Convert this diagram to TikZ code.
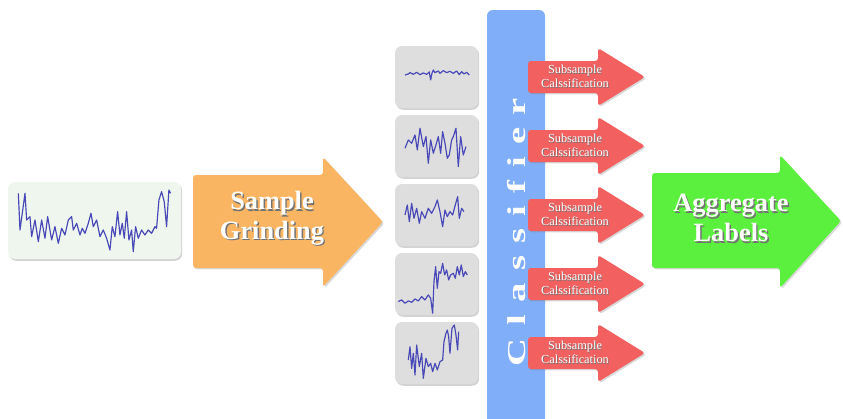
\documentclass[tikz,border=0pt]{standalone}
\usepackage{fontspec}
\setmainfont{Liberation Serif}
\newfontfamily\spacedfont[LetterSpace=32]{Liberation Serif}
\usetikzlibrary{shadows,positioning}
\definecolor{grindorange}{RGB}{250,181,98}
\definecolor{aggrgreen}{RGB}{92,240,62}
\definecolor{subred}{RGB}{242,96,96}
\definecolor{classblue}{RGB}{128,174,248}
\definecolor{cardgray}{RGB}{222,222,222}
\definecolor{mint}{RGB}{239,246,237}
\definecolor{tracecol}{RGB}{72,72,184}
% white lettering with a dark offset copy behind it
\newcommand\embossed[2][1.2pt]{\rlap{\hspace{#1}\raisebox{-#1}{\color{black!55}#2}}#2}

\begin{document}
\begin{tikzpicture}[x=0.03cm,y=-0.03cm,
    card/.style={rounded corners=6pt,drop shadow={shadow xshift=1pt,shadow yshift=-1.5pt,opacity=.35}},
    trace/.style={draw=tracecol,line width=1pt,line join=round},
    blockarrow/.style={rounded corners=2.5pt,drop shadow={shadow xshift=1.2pt,shadow yshift=-1.2pt,opacity=.3}},
    bigtext/.style={text=white,align=center,font=\fontsize{22.5}{25.5}\selectfont\bfseries},
    smalltext/.style={text=white,align=center,font=\fontsize{10.5}{12}\selectfont}]
  \useasboundingbox (0,0) rectangle (843,418);

  % whole recording
  \path[card,fill=mint] (8,182) rectangle (181,259);
  \begin{scope}[shift={(5,180)},x=0.01cm,y=-0.01cm]
    \draw[trace] plot coordinates {(40,40) (45,150) (60,40) (65,120) (75,110) (80,170) (90,120) (100,185) (110,120) (120,175) (128,110) (140,180) (150,140) (160,190) (170,145) (180,165) (190,120) (200,110) (205,150) (215,130) (225,165) (232,145) (240,160) (250,130) (258,100) (265,140) (275,120) (285,170) (295,150) (305,175) (315,210) (322,140) (330,170) (338,95) (345,165) (352,130) (358,175) (365,95) (372,180) (380,150) (385,215) (392,140) (400,175) (410,150) (420,165) (430,150) (440,160) (450,140) (455,145) (462,60) (470,35) (478,65) (485,140) (492,30) (497,40)};
  \end{scope}

  % grinding step
  \path[blockarrow,fill=grindorange] (193,175) -- (323,175) -- (323,157) -- (383,222) -- (323,287) -- (323,268) -- (193,268) -- cycle;
  \node[bigtext] (grind) at (272,219) {\embossed{Sample}\\\embossed{Grinding}};

  % subsample cards
  \foreach \i in {0,...,4}{
    \pgfmathsetmacro\cy{77+69*\i}
    \path[card,fill=cardgray] (395,\cy-31) rectangle (478,\cy+31);
  }
  \begin{scope}[shift={(390,40)},x=0.01cm,y=-0.01cm]
    \draw[trace] plot coordinates {(45,105) (55,102) (60,98) (70,103) (80,97) (90,104) (100,99) (110,103) (118,96) (122,120) (126,100) (130,90) (135,98) (145,93) (150,100) (160,92) (170,98) (180,94) (190,100) (200,93) (208,104) (215,95) (222,102) (230,97) (238,105)};
    \draw[trace] plot coordinates {(45,325) (55,300) (65,310) (75,285) (82,330) (90,265) (100,320) (108,290) (115,370) (122,300) (130,340) (138,315) (145,290) (152,340) (158,275) (165,310) (172,355) (178,345) (185,300) (190,290) (198,265) (205,380) (212,290) (220,345) (228,320)};
  \end{scope}
  \begin{scope}[shift={(390,175)},x=0.01cm,y=-0.01cm]
    \draw[trace] plot coordinates {(45,120) (52,90) (58,140) (65,85) (72,130) (80,100) (88,145) (95,110) (105,130) (115,100) (125,115) (135,95) (142,75) (150,110) (158,155) (165,105) (172,125) (180,110) (188,120) (196,90) (203,65) (208,130) (215,100) (222,110)};
    \draw[trace] plot coordinates {(25,380) (35,375) (45,385) (55,378) (65,382) (75,372) (85,378) (95,365) (105,375) (115,360) (122,370) (128,415) (132,320) (137,275) (142,340) (147,290) (152,295) (158,265) (164,300) (170,285) (176,315) (182,300) (190,295) (196,310) (202,275) (208,300) (214,270) (220,305) (226,290) (232,300)};
  \end{scope}
  \begin{scope}[shift={(390,310)},x=0.01cm,y=-0.01cm]
    \draw[trace] plot coordinates {(55,150) (60,110) (65,175) (70,130) (75,195) (80,105) (88,170) (95,130) (100,205) (108,145) (115,170) (122,160) (128,185) (135,160) (142,180) (150,155) (158,150) (162,95) (168,70) (172,60) (176,80) (180,130) (186,55) (193,45) (198,75) (203,120) (206,65)};
  \end{scope}

  % classifier bar
  \path[fill=classblue,rounded corners=5pt] (487,430) -- (487,10) -- (545,10) -- (545,430) -- cycle;
  \node[rotate=90,xscale=1.5,text=white,font=\spacedfont\fontsize{22}{22}\selectfont\bfseries] (clf) at (517,232) {Classifier};

  % one label per subsample
  \foreach \i in {0,...,4}{
    \pgfmathsetmacro\cy{77+69*\i}
    \path[blockarrow,fill=subred] (528,\cy-16) -- (598,\cy-16) -- (598,\cy-29) -- (645,\cy) -- (598,\cy+29) -- (598,\cy+16) -- (528,\cy+16) -- cycle;
    \node[smalltext] (sub\i) at (575,\cy) {\embossed[.6pt]{Subsample}\\\embossed[.6pt]{Calssification}};
  }

  % final vote
  \path[blockarrow,fill=aggrgreen] (652,173) -- (780,173) -- (780,155) -- (841,221) -- (780,288) -- (780,268) -- (652,268) -- cycle;
  \node[bigtext] (aggr) at (731,219) {\embossed{Aggregate}\\\embossed{Labels}};
\end{tikzpicture}
\end{document}
